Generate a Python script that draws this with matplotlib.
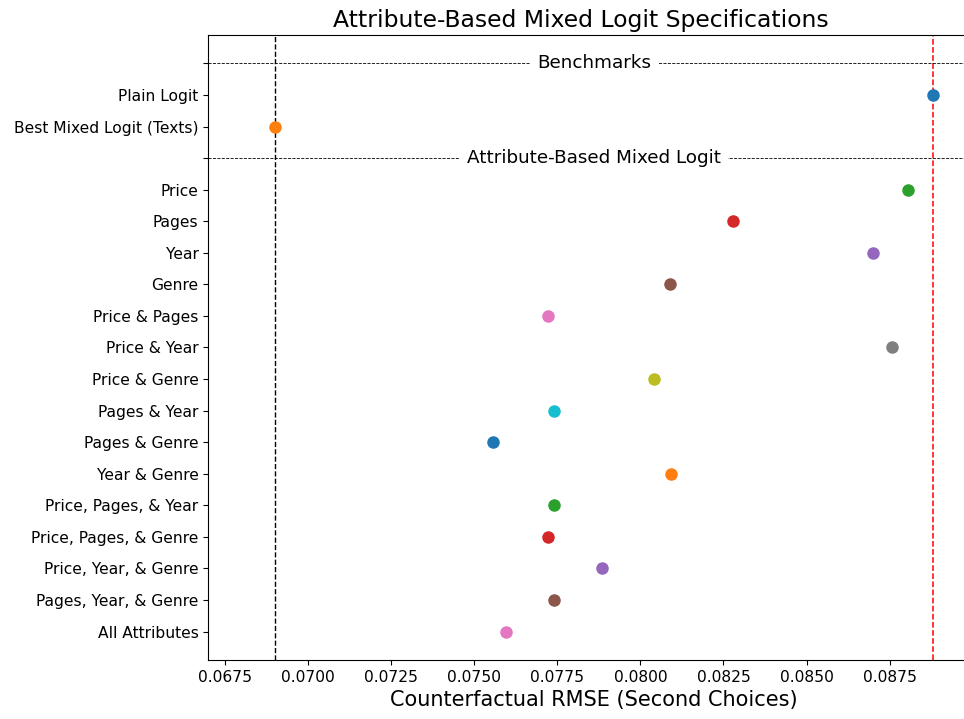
import matplotlib
matplotlib.use('Agg')

import matplotlib.pyplot as plt
import numpy as np

# rows, top to bottom; None marks a section header row
benchmark_labels = ['Plain Logit', 'Best Mixed Logit (Texts)']
benchmark_rmse = [0.0888, 0.0690]

attr_labels = ['Price', 'Pages', 'Year', 'Genre',
               'Price & Pages', 'Price & Year', 'Price & Genre',
               'Pages & Year', 'Pages & Genre', 'Year & Genre',
               'Price, Pages, & Year', 'Price, Pages, & Genre',
               'Price, Year, & Genre', 'Pages, Year, & Genre',
               'All Attributes']
attr_rmse = [0.08806, 0.08278, 0.08699, 0.08090,
             0.07722, 0.08757, 0.08042,
             0.07739, 0.07557, 0.08091,
             0.07739, 0.07722,
             0.07886, 0.07739,
             0.07596]

section_titles = ['Benchmarks', 'Attribute-Based Mixed Logit']

# build row positions
rows = [None] + benchmark_labels + [None] + attr_labels
ypos = np.arange(len(rows))
tick_labels = ['' if r is None else r for r in rows]
header_rows = [i for i, r in enumerate(rows) if r is None]
point_rows = [i for i, r in enumerate(rows) if r is not None]
point_vals = benchmark_rmse + attr_rmse

fig = plt.figure(figsize=(9.64, 7.19), dpi=100)
ax = fig.add_axes([0.2161, 0.0821, 0.8005, 0.8692])

for y, v in zip(point_rows, point_vals):
    ax.plot(v, y, 'o', markersize=8, zorder=3)

# reference lines: best mixed logit and plain logit
ax.axvline(benchmark_rmse[1], color='black', linestyle='--', linewidth=1, zorder=1)
ax.axvline(benchmark_rmse[0], color='red', linestyle='--', linewidth=1.1, zorder=1)

# section separators
for y, title in zip(header_rows, section_titles):
    ax.axhline(y, color='black', linestyle='--', linewidth=0.6, zorder=1)
    ax.text(0.5, y, title, transform=ax.get_yaxis_transform(),
            ha='center', va='center', fontsize=13.2, zorder=4,
            bbox=dict(facecolor='white', edgecolor='none', pad=5))

ax.set_yticks(ypos)
ax.set_yticklabels(tick_labels, fontsize=11.2)
ax.set_ylim(len(rows) - 1 + 0.9, -0.9)
ax.set_xlim(0.0670, 0.09022)
xt = np.arange(0.0675, 0.0900, 0.0025)
ax.set_xticks(xt)
ax.set_xticklabels(['%.4f' % t for t in xt], fontsize=11.2)

ax.set_xlabel('Counterfactual RMSE (Second Choices)', fontsize=15)
ax.set_title('Attribute-Based Mixed Logit Specifications', fontsize=16.9, x=0.483)

fig.savefig('out.png', dpi=100)
plt.close(fig)
